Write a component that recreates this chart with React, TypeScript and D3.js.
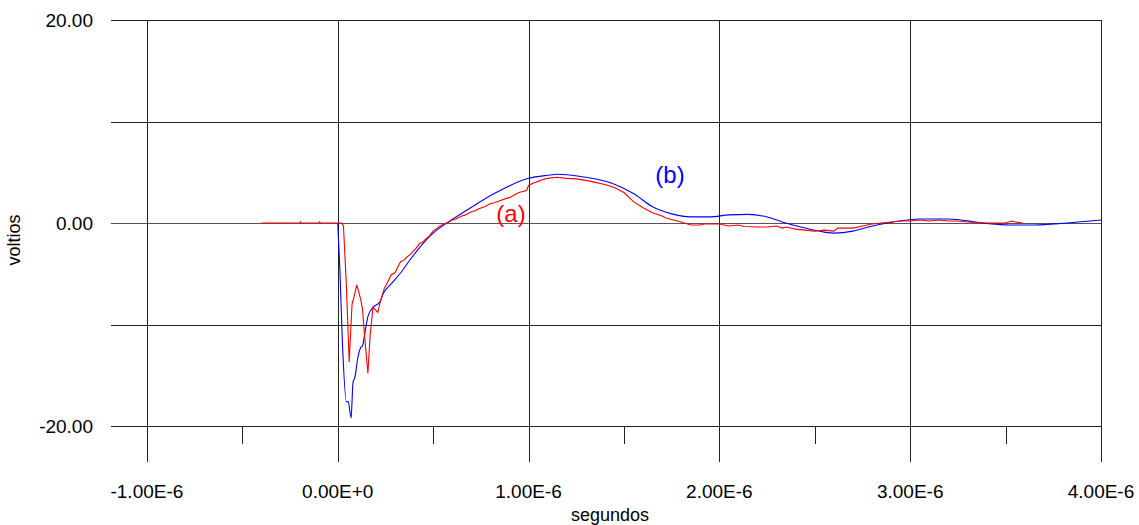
import React from "react";
import * as d3 from "d3";

// time in microseconds, voltage in volts
const timeA = [-0.4, -0.3, -0.2, -0.195, -0.19, -0.1, -0.095, -0.09, 0.0, 0.02, 0.03, 0.045, 0.06, 0.075, 0.085, 0.1, 0.12, 0.13, 0.14, 0.158, 0.17, 0.185, 0.2, 0.21, 0.225, 0.245, 0.26, 0.28, 0.3, 0.31, 0.33, 0.345, 0.36, 0.38, 0.395, 0.41, 0.43, 0.445, 0.46, 0.48, 0.5, 0.53, 0.545, 0.56, 0.58, 0.6, 0.62, 0.65, 0.67, 0.7, 0.72, 0.74, 0.77, 0.8, 0.82, 0.85, 0.88, 0.9, 0.93, 0.95, 0.99, 1.0, 1.02, 1.05, 1.08, 1.1, 1.15, 1.2, 1.25, 1.3, 1.35, 1.4, 1.45, 1.5, 1.55, 1.6, 1.65, 1.7, 1.72, 1.76, 1.8, 1.85, 1.9, 1.92, 1.95, 2.0, 2.05, 2.1, 2.13, 2.2, 2.25, 2.3, 2.33, 2.35, 2.4, 2.45, 2.5, 2.55, 2.6, 2.62, 2.7, 2.75, 2.8, 2.85, 2.9, 2.95, 3.0, 3.05, 3.1, 3.15, 3.2, 3.25, 3.3, 3.4, 3.5, 3.53, 3.55, 3.59];
const voltsA = [0, 0, 0, 0.12, 0, 0, 0.12, 0, 0, 0, -0.3, -6, -13.7, -8, -7.3, -6.1, -7.5, -8.5, -11, -14.8, -11, -8.3, -8.6, -8.8, -7.6, -6.4, -5.9, -5.1, -4.9, -4.5, -3.8, -3.7, -3.4, -3.1, -2.8, -2.5, -2.0, -1.9, -1.6, -1.3, -0.8, -0.4, -0.2, -0.1, 0.1, 0.3, 0.4, 0.7, 0.8, 1.1, 1.2, 1.4, 1.6, 1.9, 2.0, 2.2, 2.4, 2.5, 2.8, 3.0, 3.2, 3.7, 3.9, 4.1, 4.3, 4.4, 4.5, 4.4, 4.35, 4.2, 4.0, 3.8, 3.5, 3.0, 2.1, 1.5, 1.0, 0.7, 0.5, 0.3, 0.1, -0.2, -0.2, -0.1, -0.1, -0.1, -0.3, -0.2, -0.35, -0.4, -0.4, -0.3, -0.5, -0.4, -0.6, -0.7, -0.8, -0.7, -0.8, -0.5, -0.5, -0.3, -0.1, 0.0, 0.1, 0.2, 0.2, 0.3, 0.2, 0.3, 0.2, 0.2, 0.1, 0.0, 0.0, 0.2, 0.1, 0.0];

const timeB = [0.0, 0.01, 0.025, 0.045, 0.055, 0.07, 0.08, 0.09, 0.105, 0.12, 0.13, 0.145, 0.16, 0.185, 0.22, 0.24, 0.275, 0.33, 0.38, 0.43, 0.5, 0.58, 0.68, 0.82, 1.0, 1.1, 1.15, 1.3, 1.44, 1.55, 1.65, 1.75, 1.85, 1.95, 2.05, 2.15, 2.25, 2.33, 2.45, 2.55, 2.6, 2.7, 2.78, 2.91, 3.05, 3.2, 3.38, 3.52, 3.65, 3.82, 4.0];
const voltsB = [0, -4, -12, -17.6, -17.6, -19.2, -15.7, -15.2, -13.3, -12.3, -12.1, -10.5, -9.1, -8.3, -7.8, -6.9, -6.1, -4.9, -3.6, -2.4, -1.0, 0.1, 1.3, 2.9, 4.4, 4.7, 4.8, 4.5, 3.9, 2.9, 1.6, 0.9, 0.6, 0.6, 0.8, 0.85, 0.6, 0.1, -0.5, -0.9, -1.0, -0.8, -0.4, 0.1, 0.4, 0.4, 0.0, -0.2, -0.2, 0.0, 0.3];

const xMajor = [-1e-6, 0, 1e-6, 2e-6, 3e-6, 4e-6];
const xMinor = [-0.5e-6, 0.5e-6, 1.5e-6, 2.5e-6, 3.5e-6];
const xLabels = ["-1.00E-6", "0.00E+0", "1.00E-6", "2.00E-6", "3.00E-6", "4.00E-6"];
const yGrid = [20, 10, 0, -10, -20];
const yLabelled = [20, 0, -20];
const yLabels = ["20.00", "0.00", "-20.00"];

const font = "'Liberation Sans', Arial, sans-serif";

export default function App() {
  const x = d3.scaleLinear().domain([-1.183e-6, 4e-6]).range([112, 1101]);
  const y = d3.scaleLinear().domain([-20, 20]).range([426, 20]);

  const lineA = d3
    .line<[number, number]>()
    .x((d) => x(d[0] * 1e-6))
    .y((d) => y(d[1]));

  // the simulated trace is smooth after the initial dip
  const lineB = d3
    .line<[number, number]>()
    .x((d) => x(d[0] * 1e-6))
    .y((d) => y(d[1]))
    .curve(d3.curveMonotoneX);

  const serA = timeA.map((t, i) => [t, voltsA[i]] as [number, number]);
  const serB = timeB.map((t, i) => [t, voltsB[i]] as [number, number]);

  return (
    <svg
      width={1139}
      height={525}
      style={{ position: "absolute", left: 0, top: 0, background: "#fff" }}
    >
      {/* horizontal grid */}
      {yGrid.map((v) => (
        <line
          key={"h" + v}
          x1={111}
          x2={1101}
          y1={Math.round(y(v)) + 0.5}
          y2={Math.round(y(v)) + 0.5}
          stroke={v === 0 ? "#555" : "#222"}
          strokeWidth={1}
        />
      ))}
      {/* vertical grid + major ticks */}
      {xMajor.map((v) => (
        <line
          key={"v" + v}
          x1={Math.round(x(v)) + 0.5}
          x2={Math.round(x(v)) + 0.5}
          y1={20}
          y2={462}
          stroke="#222"
          strokeWidth={1}
        />
      ))}
      {xMinor.map((v) => (
        <line
          key={"m" + v}
          x1={Math.round(x(v)) + 0.5}
          x2={Math.round(x(v)) + 0.5}
          y1={426}
          y2={444}
          stroke="#222"
          strokeWidth={1}
        />
      ))}
      {/* series */}
      <path d={lineB(serB) ?? ""} fill="none" stroke="#0000ff" strokeWidth={1.1} />
      <path d={lineA(serA) ?? ""} fill="none" stroke="#ff0000" strokeWidth={1.1} />

      {/* y labels */}
      {yLabelled.map((v, i) => (
        <text
          key={"yl" + v}
          x={93}
          y={y(v)}
          dy="0.35em"
          textAnchor="end"
          fontFamily={font}
          fontSize={19}
          fill="#000"
        >
          {yLabels[i]}
        </text>
      ))}
      {/* x labels */}
      {xMajor.map((v, i) => (
        <text
          key={"xl" + v}
          x={x(v)}
          y={498}
          textAnchor="middle"
          fontFamily={font}
          fontSize={19}
          fill="#000"
        >
          {xLabels[i]}
        </text>
      ))}
      <text x={610} y={521} textAnchor="middle" fontFamily={font} fontSize={18} fill="#000">
        segundos
      </text>
      <text
        transform="translate(20,240) rotate(-90)"
        textAnchor="middle"
        fontFamily={font}
        fontSize={18}
        fill="#000"
      >
        voltios
      </text>
      <text x={511} y={222} textAnchor="middle" fontFamily={font} fontSize={24} fill="#ff0000">
        (a)
      </text>
      <text x={670} y={183} textAnchor="middle" fontFamily={font} fontSize={24} fill="#0000ff">
        (b)
      </text>
    </svg>
  );
}
